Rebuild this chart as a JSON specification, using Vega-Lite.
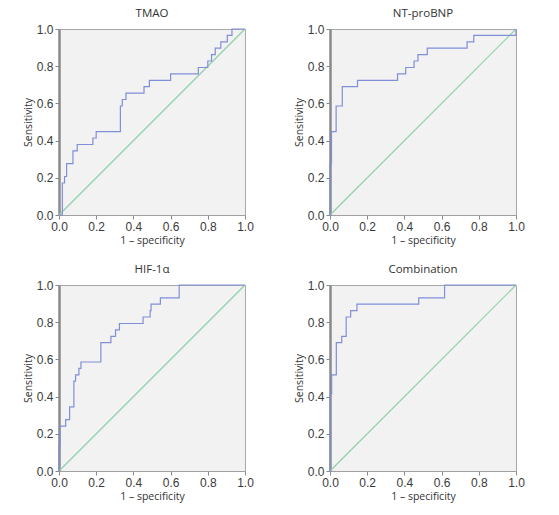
{
  "$schema": "https://vega.github.io/schema/vega-lite/v6.json",
  "padding": {"left": 22, "top": 7, "right": 5, "bottom": 5},
  "data": {"values": [
    {"p": "TMAO", "s": "ref", "i": 0, "x": 0, "y": 0},
    {"p": "TMAO", "s": "ref", "i": 1, "x": 1, "y": 1},
    {"p": "NT-proBNP", "s": "ref", "i": 0, "x": 0, "y": 0},
    {"p": "NT-proBNP", "s": "ref", "i": 1, "x": 1, "y": 1},
    {"p": "HIF-1α", "s": "ref", "i": 0, "x": 0, "y": 0},
    {"p": "HIF-1α", "s": "ref", "i": 1, "x": 1, "y": 1},
    {"p": "Combination", "s": "ref", "i": 0, "x": 0, "y": 0},
    {"p": "Combination", "s": "ref", "i": 1, "x": 1, "y": 1},

    {"p": "TMAO", "s": "roc", "i": 0, "x": 0, "y": 0},
    {"p": "TMAO", "s": "roc", "i": 1, "x": 0.018, "y": 0.172},
    {"p": "TMAO", "s": "roc", "i": 2, "x": 0.03, "y": 0.207},
    {"p": "TMAO", "s": "roc", "i": 3, "x": 0.041, "y": 0.276},
    {"p": "TMAO", "s": "roc", "i": 4, "x": 0.075, "y": 0.345},
    {"p": "TMAO", "s": "roc", "i": 5, "x": 0.098, "y": 0.379},
    {"p": "TMAO", "s": "roc", "i": 6, "x": 0.182, "y": 0.414},
    {"p": "TMAO", "s": "roc", "i": 7, "x": 0.2, "y": 0.448},
    {"p": "TMAO", "s": "roc", "i": 8, "x": 0.33, "y": 0.586},
    {"p": "TMAO", "s": "roc", "i": 9, "x": 0.34, "y": 0.621},
    {"p": "TMAO", "s": "roc", "i": 10, "x": 0.36, "y": 0.655},
    {"p": "TMAO", "s": "roc", "i": 11, "x": 0.457, "y": 0.69},
    {"p": "TMAO", "s": "roc", "i": 12, "x": 0.486, "y": 0.724},
    {"p": "TMAO", "s": "roc", "i": 13, "x": 0.6, "y": 0.759},
    {"p": "TMAO", "s": "roc", "i": 14, "x": 0.749, "y": 0.793},
    {"p": "TMAO", "s": "roc", "i": 15, "x": 0.8, "y": 0.828},
    {"p": "TMAO", "s": "roc", "i": 16, "x": 0.82, "y": 0.862},
    {"p": "TMAO", "s": "roc", "i": 17, "x": 0.84, "y": 0.897},
    {"p": "TMAO", "s": "roc", "i": 18, "x": 0.87, "y": 0.931},
    {"p": "TMAO", "s": "roc", "i": 19, "x": 0.905, "y": 0.966},
    {"p": "TMAO", "s": "roc", "i": 20, "x": 0.93, "y": 1.0},
    {"p": "TMAO", "s": "roc", "i": 21, "x": 1.0, "y": 1.0},

    {"p": "NT-proBNP", "s": "roc", "i": 0, "x": 0, "y": 0},
    {"p": "NT-proBNP", "s": "roc", "i": 1, "x": 0, "y": 0.276},
    {"p": "NT-proBNP", "s": "roc", "i": 2, "x": 0.008, "y": 0.448},
    {"p": "NT-proBNP", "s": "roc", "i": 3, "x": 0.033, "y": 0.586},
    {"p": "NT-proBNP", "s": "roc", "i": 4, "x": 0.066, "y": 0.69},
    {"p": "NT-proBNP", "s": "roc", "i": 5, "x": 0.148, "y": 0.724},
    {"p": "NT-proBNP", "s": "roc", "i": 6, "x": 0.363, "y": 0.759},
    {"p": "NT-proBNP", "s": "roc", "i": 7, "x": 0.407, "y": 0.793},
    {"p": "NT-proBNP", "s": "roc", "i": 8, "x": 0.452, "y": 0.828},
    {"p": "NT-proBNP", "s": "roc", "i": 9, "x": 0.473, "y": 0.862},
    {"p": "NT-proBNP", "s": "roc", "i": 10, "x": 0.523, "y": 0.897},
    {"p": "NT-proBNP", "s": "roc", "i": 11, "x": 0.737, "y": 0.931},
    {"p": "NT-proBNP", "s": "roc", "i": 12, "x": 0.773, "y": 0.966},
    {"p": "NT-proBNP", "s": "roc", "i": 13, "x": 1.0, "y": 1.0},

    {"p": "HIF-1α", "s": "roc", "i": 0, "x": 0, "y": 0},
    {"p": "HIF-1α", "s": "roc", "i": 1, "x": 0, "y": 0.138},
    {"p": "HIF-1α", "s": "roc", "i": 2, "x": 0.005, "y": 0.241},
    {"p": "HIF-1α", "s": "roc", "i": 3, "x": 0.036, "y": 0.276},
    {"p": "HIF-1α", "s": "roc", "i": 4, "x": 0.057, "y": 0.345},
    {"p": "HIF-1α", "s": "roc", "i": 5, "x": 0.08, "y": 0.483},
    {"p": "HIF-1α", "s": "roc", "i": 6, "x": 0.089, "y": 0.517},
    {"p": "HIF-1α", "s": "roc", "i": 7, "x": 0.107, "y": 0.552},
    {"p": "HIF-1α", "s": "roc", "i": 8, "x": 0.118, "y": 0.586},
    {"p": "HIF-1α", "s": "roc", "i": 9, "x": 0.225, "y": 0.69},
    {"p": "HIF-1α", "s": "roc", "i": 10, "x": 0.279, "y": 0.724},
    {"p": "HIF-1α", "s": "roc", "i": 11, "x": 0.304, "y": 0.759},
    {"p": "HIF-1α", "s": "roc", "i": 12, "x": 0.325, "y": 0.793},
    {"p": "HIF-1α", "s": "roc", "i": 13, "x": 0.452, "y": 0.828},
    {"p": "HIF-1α", "s": "roc", "i": 14, "x": 0.49, "y": 0.862},
    {"p": "HIF-1α", "s": "roc", "i": 15, "x": 0.495, "y": 0.897},
    {"p": "HIF-1α", "s": "roc", "i": 16, "x": 0.545, "y": 0.931},
    {"p": "HIF-1α", "s": "roc", "i": 17, "x": 0.646, "y": 1.0},
    {"p": "HIF-1α", "s": "roc", "i": 18, "x": 1.0, "y": 1.0},

    {"p": "Combination", "s": "roc", "i": 0, "x": 0, "y": 0},
    {"p": "Combination", "s": "roc", "i": 1, "x": 0, "y": 0.414},
    {"p": "Combination", "s": "roc", "i": 2, "x": 0.009, "y": 0.517},
    {"p": "Combination", "s": "roc", "i": 3, "x": 0.034, "y": 0.69},
    {"p": "Combination", "s": "roc", "i": 4, "x": 0.063, "y": 0.724},
    {"p": "Combination", "s": "roc", "i": 5, "x": 0.087, "y": 0.828},
    {"p": "Combination", "s": "roc", "i": 6, "x": 0.111, "y": 0.862},
    {"p": "Combination", "s": "roc", "i": 7, "x": 0.145, "y": 0.897},
    {"p": "Combination", "s": "roc", "i": 8, "x": 0.477, "y": 0.931},
    {"p": "Combination", "s": "roc", "i": 9, "x": 0.616, "y": 1.0},
    {"p": "Combination", "s": "roc", "i": 10, "x": 1.0, "y": 1.0}
  ]},
  "facet": {
    "field": "p",
    "type": "nominal",
    "sort": ["TMAO", "NT-proBNP", "HIF-1α", "Combination"],
    "header": {"title": null, "labelFont": "Open Sans", "labelFontSize": 11.5, "labelFontWeight": "normal", "labelColor": "#333", "labelPadding": 4}
  },
  "columns": 2,
  "spacing": {"column": 39, "row": 17},
  "resolve": {"axis": {"x": "independent", "y": "independent"}},
  "spec": {
    "width": 186,
    "height": 186,
    "encoding": {
      "x": {"field": "x", "type": "quantitative", "scale": {"domain": [0, 1], "nice": false},
            "axis": {"title": "1 – specificity", "values": [0, 0.2, 0.4, 0.6, 0.8, 1.0], "format": ".1f"}},
      "y": {"field": "y", "type": "quantitative", "scale": {"domain": [0, 1], "nice": false},
            "axis": {"title": "Sensitivity", "values": [0, 0.2, 0.4, 0.6, 0.8, 1.0], "format": ".1f", "domainWidth": 2.5, "domainColor": "#8a8a8a"}}
    },
    "layer": [
      {
        "transform": [{"filter": "datum.s == 'ref'"}],
        "mark": {"type": "line", "color": "#8fd0a8", "strokeWidth": 1.2},
        "encoding": {"order": {"field": "i", "type": "quantitative"}}
      },
      {
        "transform": [{"filter": "datum.s == 'roc'"}],
        "mark": {"type": "line", "color": "#7f8fd8", "strokeWidth": 1.2, "interpolate": "step-after"},
        "encoding": {"order": {"field": "i", "type": "quantitative"}}
      }
    ]
  },
  "config": {
    "view": {"fill": "#f2f2f2", "stroke": "#a8a8a8", "strokeWidth": 1},
    "axis": {
      "grid": false,
      "labelFont": "Liberation Sans",
      "labelFontSize": 12,
      "labelColor": "#3a3a3a",
      "labelFlush": false,
      "labelOverlap": false,
      "labelPadding": 2,
      "titleFont": "Open Sans",
      "titleFontSize": 10.5,
      "titleFontWeight": "normal",
      "titleColor": "#333",
      "titlePadding": 3,
      "tickSize": 4,
      "tickColor": "#8a8a8a",
      "domainColor": "#a0a0a0"
    }
  }
}
